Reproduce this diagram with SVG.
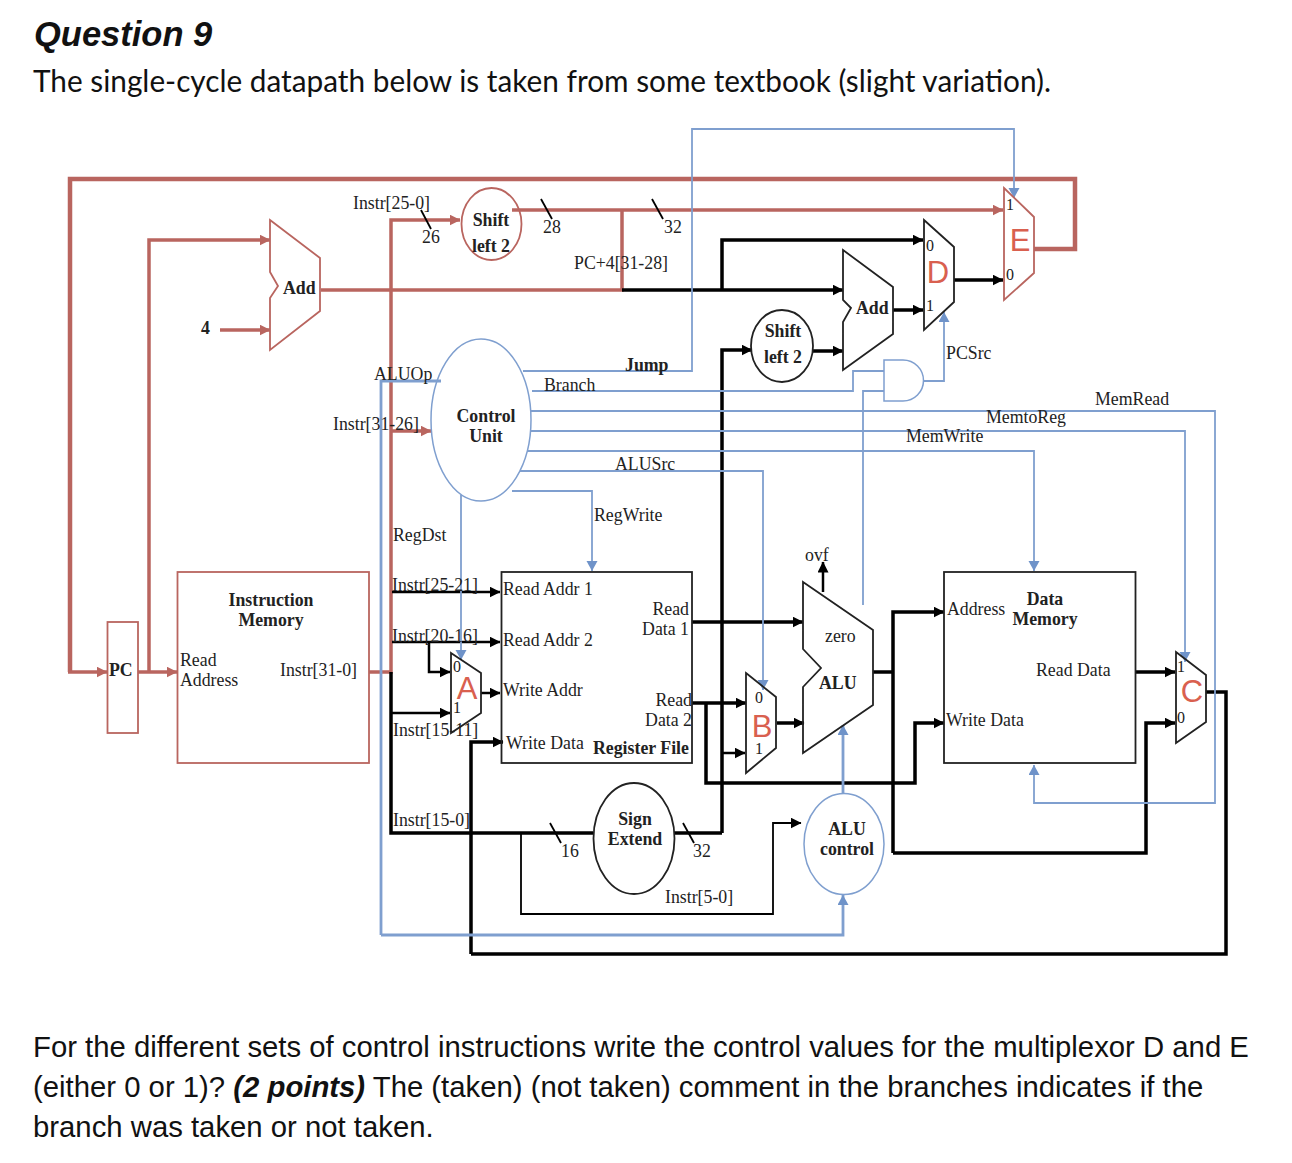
<svg xmlns="http://www.w3.org/2000/svg" width="1292" height="1163" viewBox="0 0 1292 1163">
<style>
text{font-family:"Liberation Serif","DejaVu Serif",serif;font-size:17.8px;fill:#222}
.b{font-weight:bold}
.m{text-anchor:middle}
.e{text-anchor:end}
.h{font-family:"Liberation Sans",Arial,sans-serif;font-size:29.3px;fill:#111}
.L{font-family:"Liberation Sans",Arial,sans-serif;font-size:31px;fill:#d9604f;text-anchor:middle}
.n{font-size:16px}
path,line,polyline,polygon,ellipse,rect{fill:none}
.r{stroke:#b9655f;stroke-width:3.500}
.r4{stroke:#b9655f;stroke-width:4.500}
.k{stroke:#000;stroke-width:3.500}
.k2{stroke:#000;stroke-width:2.500}
.kt{stroke:#000;stroke-width:1.800}
.u{stroke:#7f9fcf;stroke-width:1.800}
.u2{stroke:#7f9fcf;stroke-width:2.800}
.nb{fill:#fff;stroke:#222;stroke-width:1.800}
.nr{fill:#fff;stroke:#b9655f;stroke-width:1.800}
.nu{fill:#fff;stroke:#7f9fcf;stroke-width:1.500}
.ra{marker-end:url(#ar)}.ka{marker-end:url(#ak)}.ua{marker-end:url(#au)}
</style>
<defs>
<marker id="ar" markerUnits="userSpaceOnUse" markerWidth="12" markerHeight="12" refX="10.500" refY="5.500" orient="auto"><path d="M0 0L11 5.500L0 11Z" style="fill:#b9655f;stroke:none"/></marker>
<marker id="ak" markerUnits="userSpaceOnUse" markerWidth="12" markerHeight="12" refX="10.500" refY="5.500" orient="auto"><path d="M0 0L11 5.500L0 11Z" style="fill:#000;stroke:none"/></marker>
<marker id="au" markerUnits="userSpaceOnUse" markerWidth="12" markerHeight="12" refX="10" refY="5.500" orient="auto"><path d="M0 0L10 5.500L0 11Z" style="fill:#6f93c9;stroke:none"/></marker>
</defs>
<rect x="0" y="0" width="1292" height="1163" style="fill:#fff"/>

<g id="heading">
<text class="h" x="34" y="46" font-weight="bold" font-style="italic" style="font-size:34.500px">Question 9</text>
<text x="33" y="92" textLength="1018" lengthAdjust="spacingAndGlyphs" style="font-family:Lato,'Open Sans',sans-serif;font-size:31px;fill:#111">The single-cycle datapath below is taken from some textbook (slight variation).</text>
</g>

<g id="connectors">
<path class="r4" d="M1034 249H1075V179H70V672"/>
<path class="r ra" d="M68 672H107"/>
<path class="r ra" d="M149 672V240H270"/>
<path class="r ra" d="M138 672H177"/>
<path class="r ra" d="M220 330H270"/>
<path class="r" d="M321 290H622V210"/>
<path class="r ra" d="M512 210H1003"/>
<path class="r ra" d="M369 672H391V220H460"/>
<path class="r ra" d="M391 431H431"/>
<path class="k ka" d="M622 290H843"/>
<path class="k ka" d="M722 290V240H923"/>
<path class="k ka" d="M722 833V350H752"/>
<path class="k ka" d="M812 351H843"/>
<path class="k ka" d="M893 310H923"/>
<path class="k ka" d="M954 280H1003"/>
<path class="k" d="M391 672V833H593"/>
<path class="k" d="M674 833H722"/>
<path class="k2 ka" d="M392 592H500"/>
<path class="k2 ka" d="M392 642H500"/>
<path class="k2 ka" d="M429 642V672H450"/>
<path class="k2 ka" d="M392 713H450"/>
<path class="k2 ka" d="M481 693H500"/>
<path class="k ka" d="M471 954V742H503"/>
<path class="k" d="M471 954H1226V692H1206"/>
<path class="k ka" d="M692 622H803"/>
<path class="k ka" d="M692 703H746"/>
<path class="k ka" d="M706 703V783H915V723H944"/>
<path class="k2 ka" d="M722 753H745"/>
<path class="k ka" d="M777 723H804"/>
<path class="k" d="M873 672H893"/>
<path class="k ka" d="M893 853V612H944"/>
<path class="k ka" d="M893 853H1146V723H1175"/>
<path class="k ka" d="M1136 672H1175"/>
<path class="k2 ka" d="M823 592V562"/>
<path class="kt ka" d="M521 833V914H773V823H801"/>
<line class="kt" x1="541" y1="199" x2="552" y2="219"/>
<line class="kt" x1="652" y1="199" x2="663" y2="219"/>
<line class="kt" x1="421" y1="210" x2="431" y2="229"/>
<line class="kt" x1="550" y1="823" x2="561" y2="843"/>
<line class="kt" x1="683" y1="823" x2="694" y2="843"/>
<path class="u ua" d="M523 371H692V129H1014V198"/>
<path class="u" d="M532 391H853V371H884"/>
<path class="u" d="M863 605V391H884"/>
<path class="u ua" d="M924 381H944V312"/>
<path class="u ua" d="M531 411H1215V803H1034V765"/>
<path class="u ua" d="M531 431H1185V662"/>
<path class="u ua" d="M527 451H1034V571"/>
<path class="u ua" d="M520 471H763V690"/>
<path class="u ua" d="M512 491H592V571"/>
<path class="u ua" d="M461 495V660"/>
<path class="u2" d="M441 381H381V935"/>
<path class="u2 ua" d="M381 935H843V895"/>
<path class="u2 ua" d="M843 793V725"/>
</g>

<g id="and-gate"><path class="nu" d="M884 360H903A20.500 20.500 0 0 1 903 401H884Z"/></g>
<g id="add-pc"><polygon class="nr" points="270,220 320,258 320,311 270,350 270,298 278,286 270,272"/><text class="b" x="283" y="294">Add</text></g>
<g id="four"><text class="b" x="201" y="334">4</text></g>
<g id="pc"><rect class="nr" x="107.500" y="622" width="30.500" height="111"/><text class="b" x="109" y="676">PC</text></g>
<g id="instruction-memory"><rect class="nr" x="177.500" y="572" width="191.500" height="191"/>
<text class="b m" x="271" y="606">Instruction</text><text class="b m" x="271" y="626">Memory</text>
<text x="180" y="666">Read</text><text x="180" y="686">Address</text><text x="280" y="676">Instr[31-0]</text></g>
<g id="shift-left-jump"><ellipse class="nr" cx="491.500" cy="224" rx="30" ry="36" style="fill:none"/><text class="b m" x="491" y="226">Shift</text><text class="b m" x="491" y="252">left 2</text></g>
<g id="control-unit"><ellipse class="nu" cx="481" cy="420" rx="50" ry="81" style="fill:none"/><text class="b m" x="486" y="422">Control</text><text class="b m" x="486" y="442">Unit</text></g>
<g id="shift-left-branch"><ellipse class="nb" cx="782" cy="346" rx="31" ry="36"/><text class="b m" x="783" y="337">Shift</text><text class="b m" x="783" y="363">left 2</text></g>
<g id="add-branch"><polygon class="nb" points="843,250 893,287 893,334 843,370 843,322 851,308 843,300"/><text class="b" x="856" y="314">Add</text></g>
<g id="mux-d"><polygon class="nb" points="924,220 954,247 954,302 924,330"/><text class="L" x="938" y="283">D</text><text class="n" x="926" y="251">0</text><text class="n" x="926" y="311">1</text></g>
<g id="mux-e"><polygon class="nr" points="1004,188 1034,217 1034,273 1004,300"/><text class="L" x="1020" y="251">E</text><text class="n" x="1006" y="210">1</text><text class="n" x="1006" y="280">0</text></g>
<g id="register-file"><rect class="nb" x="501.500" y="572" width="190.500" height="191" style="fill:none"/>
<text x="503" y="595">Read Addr 1</text><text x="503" y="646">Read Addr 2</text><text x="503" y="696">Write Addr</text><text x="506" y="749">Write Data</text>
<text class="b" x="593" y="754">Register File</text>
<text class="e" x="689" y="615">Read</text><text class="e" x="689" y="635">Data 1</text><text class="e" x="692" y="706">Read</text><text class="e" x="692" y="726">Data 2</text></g>
<g id="mux-a"><polygon class="nb" points="451,653 481,673 481,713 451,733" style="fill:none"/><text class="L" x="467" y="699">A</text><text class="n" x="453" y="672">0</text><text class="n" x="453" y="713">1</text></g>
<g id="mux-b"><polygon class="nb" points="746,673 776,697 776,748 746,773" style="fill:none"/><text class="L" x="762" y="737">B</text><text class="n" x="755" y="703">0</text><text class="n" x="755" y="754">1</text></g>
<g id="alu"><polygon class="nb" points="803,582 873,630 873,705 803,753 803,687 821,668 803,649" style="fill:none"/><text x="825" y="642">zero</text><text class="b" x="819" y="689">ALU</text></g>
<g id="sign-extend"><ellipse class="nb" cx="634" cy="838.500" rx="40.500" ry="55.500"/><text class="b m" x="635" y="825">Sign</text><text class="b m" x="635" y="845">Extend</text></g>
<g id="alu-control"><ellipse class="nu" cx="844" cy="844" rx="40" ry="50.500"/><text class="b m" x="847" y="835">ALU</text><text class="b m" x="847" y="855">control</text></g>
<g id="data-memory"><rect class="nb" x="944" y="572" width="191.500" height="191" style="fill:none"/>
<text class="b m" x="1045" y="605">Data</text><text class="b m" x="1045" y="625">Memory</text>
<text x="947" y="615">Address</text><text x="1036" y="676">Read Data</text><text x="946" y="726">Write Data</text></g>
<g id="mux-c"><polygon class="nb" points="1176,652 1206,675 1206,722 1176,743" style="fill:none"/><text class="L" x="1192" y="702">C</text><text class="n" x="1177" y="672">1</text><text class="n" x="1177" y="723">0</text></g>

<g id="labels">
<text x="353" y="209">Instr[25-0]</text><text x="422" y="243">26</text><text x="543" y="233">28</text><text x="664" y="233">32</text>
<text x="574" y="269">PC+4[31-28]</text><text x="374" y="380">ALUOp</text><text x="333" y="430">Instr[31-26]</text>
<text class="b" x="625" y="371">Jump</text><text x="544" y="391">Branch</text><text x="615" y="470">ALUSrc</text><text x="594" y="521">RegWrite</text><text x="393" y="541">RegDst</text>
<text x="392" y="591">Instr[25-21]</text><text x="392" y="642">Instr[20-16]</text><text x="393" y="736">Instr[15-11]</text><text x="393" y="826">Instr[15-0]</text>
<text x="561" y="857">16</text><text x="693" y="857">32</text><text x="665" y="903">Instr[5-0]</text><text x="805" y="561">ovf</text>
<text x="946" y="359">PCSrc</text><text x="1095" y="405">MemRead</text><text x="986" y="423">MemtoReg</text><text x="906" y="442">MemWrite</text>
</g>

<g id="footer">
<text class="h" x="33" y="1057">For the different sets of control instructions write the control values for the multiplexor D and E</text>
<text class="h" x="33" y="1097">(either 0 or 1)? <tspan font-weight="bold" font-style="italic">(2 points)</tspan> The (taken) (not taken) comment in the branches indicates if the</text>
<text class="h" x="33" y="1137">branch was taken or not taken.</text>
</g>
</svg>
